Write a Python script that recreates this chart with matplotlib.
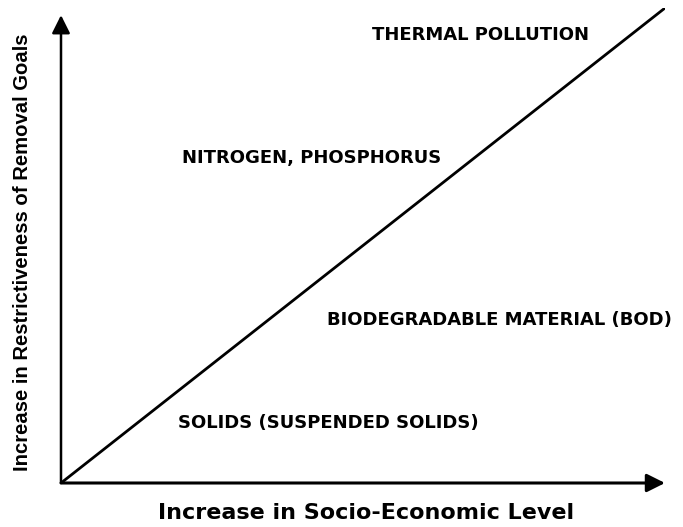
import matplotlib.pyplot as plt

# regions of the conceptual chart (x = socio-economic level, y = restrictiveness)
labels = ["THERMAL POLLUTION", "NITROGEN, PHOSPHORUS",
          "BIODEGRADABLE MATERIAL (BOD)", "SOLIDS (SUSPENDED SOLIDS)"]
label_x = [0.515, 0.200, 0.440, 0.194]
label_y = [0.943, 0.684, 0.343, 0.126]

line_x = [0.0, 1.0]
line_y = [0.0, 1.0]

fig = plt.figure(figsize=(6.83, 5.27), dpi=100)
ax = fig.add_axes([61 / 683, 44 / 527, 604 / 683, 475 / 527])
ax.set_xlim(0, 1)
ax.set_ylim(0, 1)
ax.axis('off')

ax.plot(line_x, line_y, color='black', lw=2.0, solid_capstyle='butt')

# axes with arrow heads
ax.annotate('', xy=(1.0, 0), xytext=(0, 0),
            arrowprops=dict(arrowstyle='-|>,head_length=1.1,head_width=0.55',
                            color='black', lw=2.2, shrinkA=0, shrinkB=0))
ax.annotate('', xy=(0, 0.985), xytext=(0, 0),
            arrowprops=dict(arrowstyle='-|>,head_length=1.1,head_width=0.55',
                            color='black', lw=1.8, shrinkA=0, shrinkB=0))

for s, x, y in zip(labels, label_x, label_y):
    ax.text(x, y, s, fontsize=13, fontweight='bold', family='DejaVu Sans',
            ha='left', va='center')

fig.text(366 / 683, 1 - 513 / 527, "Increase in Socio-Economic Level",
         fontsize=16, fontweight='bold', family='DejaVu Sans',
         ha='center', va='center')
fig.text(23 / 683, 1 - 252 / 527, "Increase in Restrictiveness of Removal Goals",
         fontsize=14.6, fontweight='bold', family='Liberation Sans',
         rotation=90, ha='center', va='center')

fig.savefig('out.png', dpi=100)
